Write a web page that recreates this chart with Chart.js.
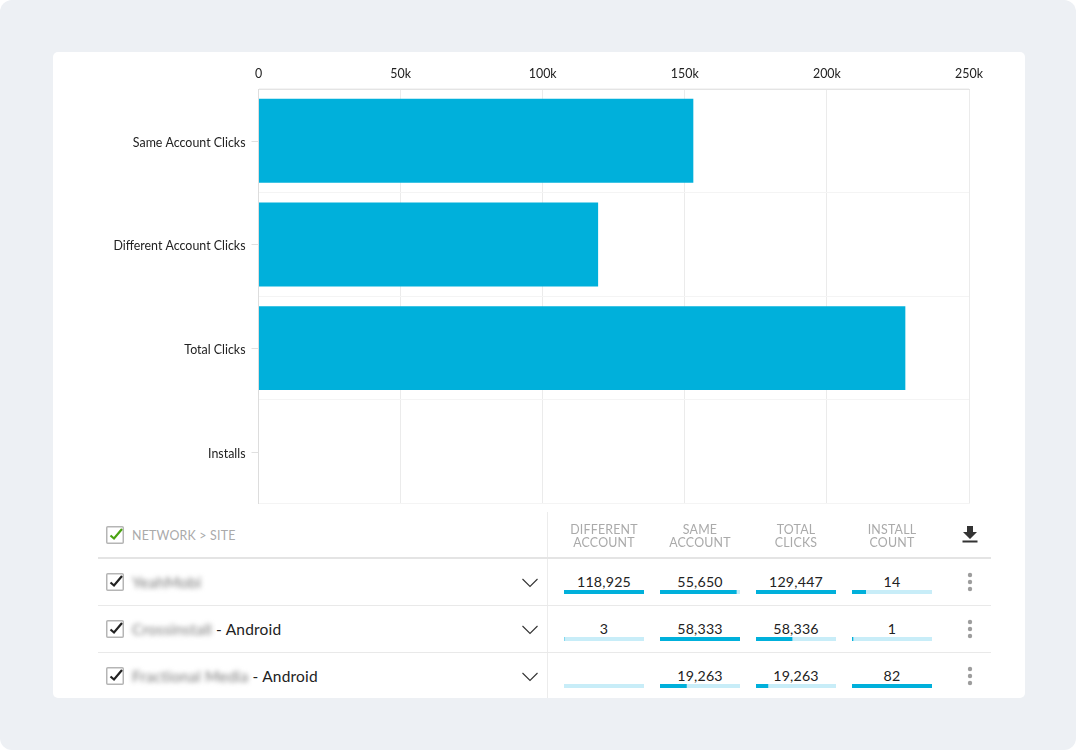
<!DOCTYPE html>
<html><head><meta charset="utf-8">
<script src="https://cdn.jsdelivr.net/npm/chart.js@4/dist/chart.umd.min.js"></script>
<style>
html,body{margin:0;padding:0;background:#fff;width:1076px;height:750px;overflow:hidden;font-family:Lato,sans-serif;}
#outer{position:absolute;left:0;top:0;width:1076px;height:750px;background:#edf0f4;border-radius:12px;}
#card{position:absolute;left:53px;top:52px;width:972px;height:646px;background:#fff;border-radius:5px;}
#main{position:absolute;left:53px;top:52px;}
.abs{position:absolute;}
.hline{position:absolute;left:98px;width:893px;background:#e9e9e9;height:1px;}
.head{position:absolute;width:96px;text-align:center;font-size:12.4px;line-height:13px;color:#aaa;letter-spacing:.2px;top:523px;}
.val{position:absolute;width:96px;text-align:center;font-size:14.2px;color:#222;line-height:18px;letter-spacing:.2px;}
.name{position:absolute;left:132px;font-size:15.5px;color:#222;line-height:20px;white-space:nowrap;letter-spacing:.2px;}
.name i{font-style:normal;color:#777;filter:blur(2.6px);display:inline-block;}
.mini{position:absolute;}
svg{position:absolute;overflow:visible;}
</style></head><body>
<div id="outer"></div><div id="card"></div>
<canvas id="main" width="972" height="472"></canvas>
<div id="table"></div>
<script>
const categories = ['Same Account Clicks','Different Account Clicks','Total Clicks','Installs'];
const clickValues = [153000,119500,227600,0];
const xTickValues = [0,50000,100000,150000,200000,250000];
const xTickLabels = ['0','50k','100k','150k','200k','250k'];

const networkBlurred = ['YeahMobi','Crossinstall','Fractional Media'];
const networkSuffix = ['',' - Android',' - Android'];
const columnHeads = [['DIFFERENT','ACCOUNT'],['SAME','ACCOUNT'],['TOTAL','CLICKS'],['INSTALL','COUNT']];
const differentAccount = [118925,3,null];
const sameAccount = [55650,58333,19263];
const totalClicks = [129447,58336,19263];
const installCount = [14,1,82];

const FONT = 'Lato';
const BLUE = '#00b0db', TRACK = '#c8edf8';

const yTickMarks = {
  id:'yTickMarks',
  afterDraw(c){
    const y=c.scales.y,ctx=c.ctx;
    ctx.save();ctx.strokeStyle='#e0e0e0';ctx.lineWidth=1;
    y.ticks.forEach((t,i)=>{const p=Math.round(y.getPixelForTick(i))+.5;
      ctx.beginPath();ctx.moveTo(y.right-7,p);ctx.lineTo(y.right,p);ctx.stroke();});
    ctx.restore();
  }
};

new Chart(document.getElementById('main'),{
  type:'bar',
  data:{labels:categories,datasets:[{data:clickValues,backgroundColor:BLUE,borderWidth:0,barPercentage:.81,categoryPercentage:1}]},
  plugins:[yTickMarks],
  options:{
    indexAxis:'y',responsive:false,animation:false,
    layout:{padding:{left:0,right:56,top:0,bottom:0}},
    plugins:{legend:{display:false},tooltip:{enabled:false}},
    scales:{
      x:{position:'top',min:0,max:250000,
        afterBuildTicks(a){a.ticks=xTickValues.map(v=>({value:v}));},
        afterFit(a){a.height=37;},
        grid:{color:'#ebebeb',lineWidth:1,drawTicks:false},
        border:{color:'#e4e4e4'},
        ticks:{padding:8,maxRotation:0,autoSkip:false,color:'#222',font:{family:FONT,size:12.4},
          callback:(v,i)=>xTickLabels[i]}},
      y:{afterFit(a){a.width=205.5;},
        grid:{color:'#f4f4f4',lineWidth:1,drawTicks:false,offset:true},
        border:{color:'#dddddd'},
        ticks:{padding:13,labelOffset:2,color:'#222',font:{family:FONT,size:12.4}}}
    }
  }
});
</script>
<script>
const tbl=document.getElementById('table');
const add=(cls,txt,st)=>{const d=document.createElement('div');d.className=cls;if(txt!=null)d.innerHTML=txt;Object.assign(d.style,st||{});tbl.appendChild(d);return d;};
const centers=[604,700,796,892], rowCY=[582,629,676], columns=[differentAccount,sameAccount,totalClicks,installCount];
add('abs',null,{left:'547px',top:'512px',width:'1px',height:'186px',background:'#ececec'});
add('hline',null,{top:'557px',height:'2px',background:'#e4e4e4'});
add('hline',null,{top:'605px'});add('hline',null,{top:'652px'});
columnHeads.forEach((h,c)=>add('head',h.join('<br>'),{left:(centers[c]-48)+'px'}));
add('abs','NETWORK &gt; SITE',{left:'132px',top:'529px',fontSize:'12.4px',lineHeight:'14px',color:'#aaa',letterSpacing:'.2px'});
function box(y,col){return `<svg style="left:106px;top:${y}px" width="18" height="18"><rect x=".75" y=".75" width="16.5" height="16.5" rx="1" fill="#fff" stroke="#b5b5b5" stroke-width="1.5"/><path d="M4.5 9.5L8 12.5L16 3" fill="none" stroke="${col}" stroke-width="2.2"/></svg>`;}
tbl.insertAdjacentHTML('beforeend',box(526,'#4aa312'));
rowCY.forEach((cy,r)=>{
  tbl.insertAdjacentHTML('beforeend',box(cy-9,'#222'));
  add('name',`<i>${networkBlurred[r]}</i>${networkSuffix[r]}`,{top:(cy-10)+'px'});
  tbl.insertAdjacentHTML('beforeend',`<svg style="left:522px;top:${cy-4}px" width="16" height="10"><path d="M.5 1L8 8.5L15.5 1" fill="none" stroke="#333" stroke-width="1.1"/></svg>`);
  tbl.insertAdjacentHTML('beforeend',`<svg style="left:967px;top:${cy-10}px" width="6" height="20"><g fill="#9d9d9d"><circle cx="3" cy="3" r="2.2"/><circle cx="3" cy="10" r="2.2"/><circle cx="3" cy="17" r="2.2"/></g></svg>`);
  columns.forEach((col,c)=>{
    const v=col[r];
    add('val',v==null?'':v.toLocaleString('en-US'),{left:(centers[c]-48)+'px',top:(cy-9)+'px'});
    const cv=document.createElement('canvas');cv.className='mini';cv.width=80;cv.height=4;
    Object.assign(cv.style,{left:(centers[c]-40)+'px',top:(cy+8)+'px',width:'80px',height:'4px'});
    tbl.appendChild(cv);
    new Chart(cv,{type:'bar',
      data:{labels:[networkBlurred[r]],datasets:[{data:[v],backgroundColor:BLUE,borderWidth:0,barPercentage:1,categoryPercentage:1}]},
      plugins:[{id:'track',beforeDraw(ch){const a=ch.chartArea;ch.ctx.save();ch.ctx.fillStyle=TRACK;ch.ctx.fillRect(a.left,a.top,a.width,a.height);ch.ctx.restore();}}],
      options:{indexAxis:'y',responsive:false,animation:false,layout:{padding:0},
        plugins:{legend:{display:false},tooltip:{enabled:false}},
        scales:{x:{display:false,min:0,max:Math.max(...col.filter(n=>n!=null))},y:{display:false}}}});
  });
});
tbl.insertAdjacentHTML('beforeend',`<svg style="left:962px;top:525px" width="16" height="19"><path d="M5 1h6v6h4l-7 7l-7-7h4z" fill="#333"/><rect x="0.5" y="15.5" width="15" height="2" fill="#333"/></svg>`);
</script>
</body></html>
